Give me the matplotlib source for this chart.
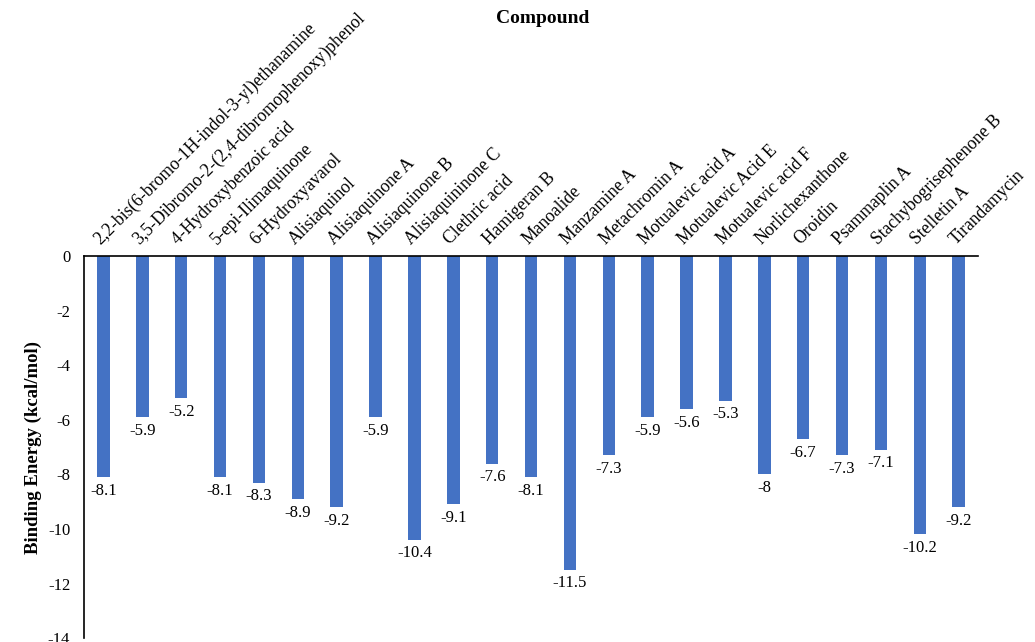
import matplotlib
matplotlib.use("Agg")
import matplotlib.pyplot as plt

# compound names and docking scores (kcal/mol)
compuestos = [
    "2,2-bis(6-bromo-1H-indol-3-yl)ethanamine",
    "3,5-Dibromo-2-(2,4-dibromophenoxy)phenol",
    "4-Hydroxybenzoic acid",
    "5-epi-Ilimaquinone",
    "6-Hydroxyavarol",
    "Alisiaquinol",
    "Alisiaquinone A",
    "Alisiaquinone B",
    "Alisiaquininone C",
    "Clethric acid",
    "Hamigeran B",
    "Manoalide",
    "Manzamine A",
    "Metachromin A",
    "Motualevic acid A",
    "Motualevic Acid E",
    "Motualevic acid F",
    "Norlichexanthone",
    "Oroidin",
    "Psammaplin A",
    "Stachybogrisephenone B",
    "Stelletin A",
    "Tirandamycin",
]
energias = [-8.1, -5.9, -5.2, -8.1, -8.3, -8.9, -9.2, -5.9, -10.4, -9.1, -7.6,
            -8.1, -11.5, -7.3, -5.9, -5.6, -5.3, -8, -6.7, -7.3, -7.1, -10.2, -9.2]
ticks_y = [0, -2, -4, -6, -8, -10, -12, -14]

plt.rcParams['font.family'] = ['Liberation Serif', 'DejaVu Serif']
plt.rcParams['font.size'] = 12

fig = plt.figure(figsize=(10.35, 6.42), dpi=100)
ax = fig.add_axes([0.0812, 0.006, 0.8638, 0.595])

pos = list(range(len(compuestos)))
barras = ax.bar(pos, energias, width=0.32, color='#4472C4')

for x, v in zip(pos, energias):
    ax.annotate('%g' % v, xy=(x, v), xytext=(0, -4), textcoords='offset points',
                ha='center', va='top', fontsize=12)

ax.set_xlim(-0.5, len(compuestos) - 0.5)
ax.set_ylim(-14, 0)
ax.set_yticks(ticks_y)
ax.set_yticklabels([str(t) for t in ticks_y])

ax.xaxis.tick_top()
ax.set_xticks(pos)
ax.set_xticklabels(compuestos, rotation=45, ha='left', va='bottom',
                   rotation_mode='anchor', fontsize=12.7)
ax.tick_params(axis='both', length=0)
ax.tick_params(axis='x', pad=6)
ax.tick_params(axis='y', pad=10)

ax.spines['right'].set_visible(False)
ax.spines['bottom'].set_visible(False)
ax.spines['top'].set_linewidth(1.2)
ax.spines['left'].set_linewidth(1.2)

ax.set_ylabel('Binding Energy (kcal/mol)', fontweight='bold', fontsize=13.5)
fig.text(0.524, 0.971, 'Compound', ha='center', va='center',
         fontweight='bold', fontsize=14)

fig.savefig('out.png', dpi=100)
